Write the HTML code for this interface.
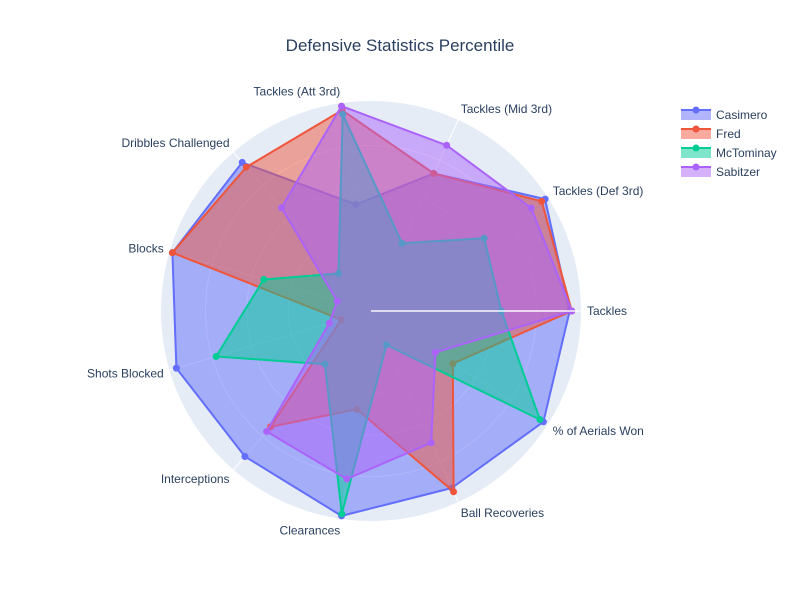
<!DOCTYPE html>
<html><head><meta charset="utf-8"><style>
body{margin:0;background:#fff;}
svg{display:block;font-family:"Liberation Sans",Arial,sans-serif;}
</style></head><body>
<svg id="chart" width="800" height="600">
<rect width="800" height="600" fill="#fff"/>
<text x="400" y="51" text-anchor="middle" font-size="17" fill="#2a3f5f">Defensive Statistics Percentile</text>
<g id="polar"></g>
<g id="legend"></g>
</svg>
<script>
const categories = ["Tackles","Tackles (Def 3rd)","Tackles (Mid 3rd)","Tackles (Att 3rd)","Dribbles Challenged","Blocks","Shots Blocked","Interceptions","Clearances","Ball Recoveries","% of Aerials Won"];
const seriesNames = ["Casimero","Fred","McTominay","Sabitzer"];
const casimero = [96,100,73,52,95,100,98,93,100,94,99];
const fred = [97,98,73,98,92,100,15,74,48,96,47];
const mctominay = [63,65,36,96,24,54,78,34,99,18,97];
const sabitzer = [97,92,88,100,66,17,21,77,82,70,37];
const gridTicks = [20,40,60,80];

const seriesValues = [casimero,fred,mctominay,sabitzer];
const colors = ["#636efa","#EF553B","#00cc96","#ab63fa"];
const cx = 371, cy = 311, R100 = 207, bgR = 210;
const NS = "http://www.w3.org/2000/svg";
function rScale(v){ return v / 100 * R100; }
function angle(i){ return i * 2 * Math.PI / categories.length; }
function pt(i, v){ const a = angle(i), r = rScale(v); return [cx + r*Math.cos(a), cy - r*Math.sin(a)]; }
function mk(tag, attrs, parent){ const e = document.createElementNS(NS, tag); for (const k in attrs) e.setAttribute(k, attrs[k]); parent.appendChild(e); return e; }

const polar = document.getElementById('polar');
const bg = mk('circle', {cx:cx, cy:cy, r:bgR, fill:'#e5ecf6'}, polar);


gridTicks.forEach(t => {
  const c = mk('circle', {cx:cx, cy:cy, r:rScale(t), fill:'none', stroke:'#fff', 'stroke-width':1}, polar);
  
  
});
categories.forEach((c, i) => {
  const [x, y] = pt(i, bgR / R100 * 100);
  const l = mk('line', {x1:cx, y1:cy, x2:x, y2:y, stroke:'#fff', 'stroke-width':1}, polar);
  
  
});
seriesValues.forEach((vals, s) => {
  const g = mk('g', {}, polar);
  
  
  const pts = vals.map((v, i) => pt(i, v));
  const d = pts.map(p => p[0].toFixed(1) + ',' + p[1].toFixed(1)).join(' ');
  const poly = mk('polygon', {points:d, fill:colors[s], 'fill-opacity':0.5, stroke:colors[s], 'stroke-width':2, 'stroke-linejoin':'round'}, g);
  
  
  pts.forEach((p, i) => {
    const m = mk('circle', {cx:p[0], cy:p[1], r:3.5, fill:colors[s]}, g);
    
    
  });
});
const ax = mk('line', {x1:cx, y1:cy, x2:cx + bgR - 4, y2:cy, stroke:'#fff', 'stroke-opacity':0.7, 'stroke-width':2}, polar);


categories.forEach((c, i) => {
  const a = angle(i), r = bgR + 6;
  const x = cx + r*Math.cos(a), y = cy - r*Math.sin(a);
  const cs = Math.cos(a), sn = Math.sin(a);
  const anchor = cs > 0.05 ? 'start' : (cs < -0.05 ? 'end' : 'middle');
  const dy = 4 - sn * 6;
  const t = mk('text', {x:x, y:y + dy, 'text-anchor':anchor, 'font-size':12, fill:'#2a3f5f'}, polar);
  t.textContent = c;
  
  
});
const legend = document.getElementById('legend');


seriesNames.forEach((n, s) => {
  const y = 115 + s * 19;
  const g = mk('g', {}, legend);
  
  
  mk('rect', {x:681, y:y - 5, width:30, height:10, fill:colors[s], 'fill-opacity':0.5}, g);
  mk('line', {x1:681, y1:y - 5, x2:711, y2:y - 5, stroke:colors[s], 'stroke-width':2}, g);
  mk('circle', {cx:696, cy:y - 5, r:3.5, fill:colors[s]}, g);
  const t = mk('text', {x:716, y:y + 4, 'font-size':12, fill:'#2a3f5f'}, g);
  t.textContent = n;
});
</script>
</body></html>
